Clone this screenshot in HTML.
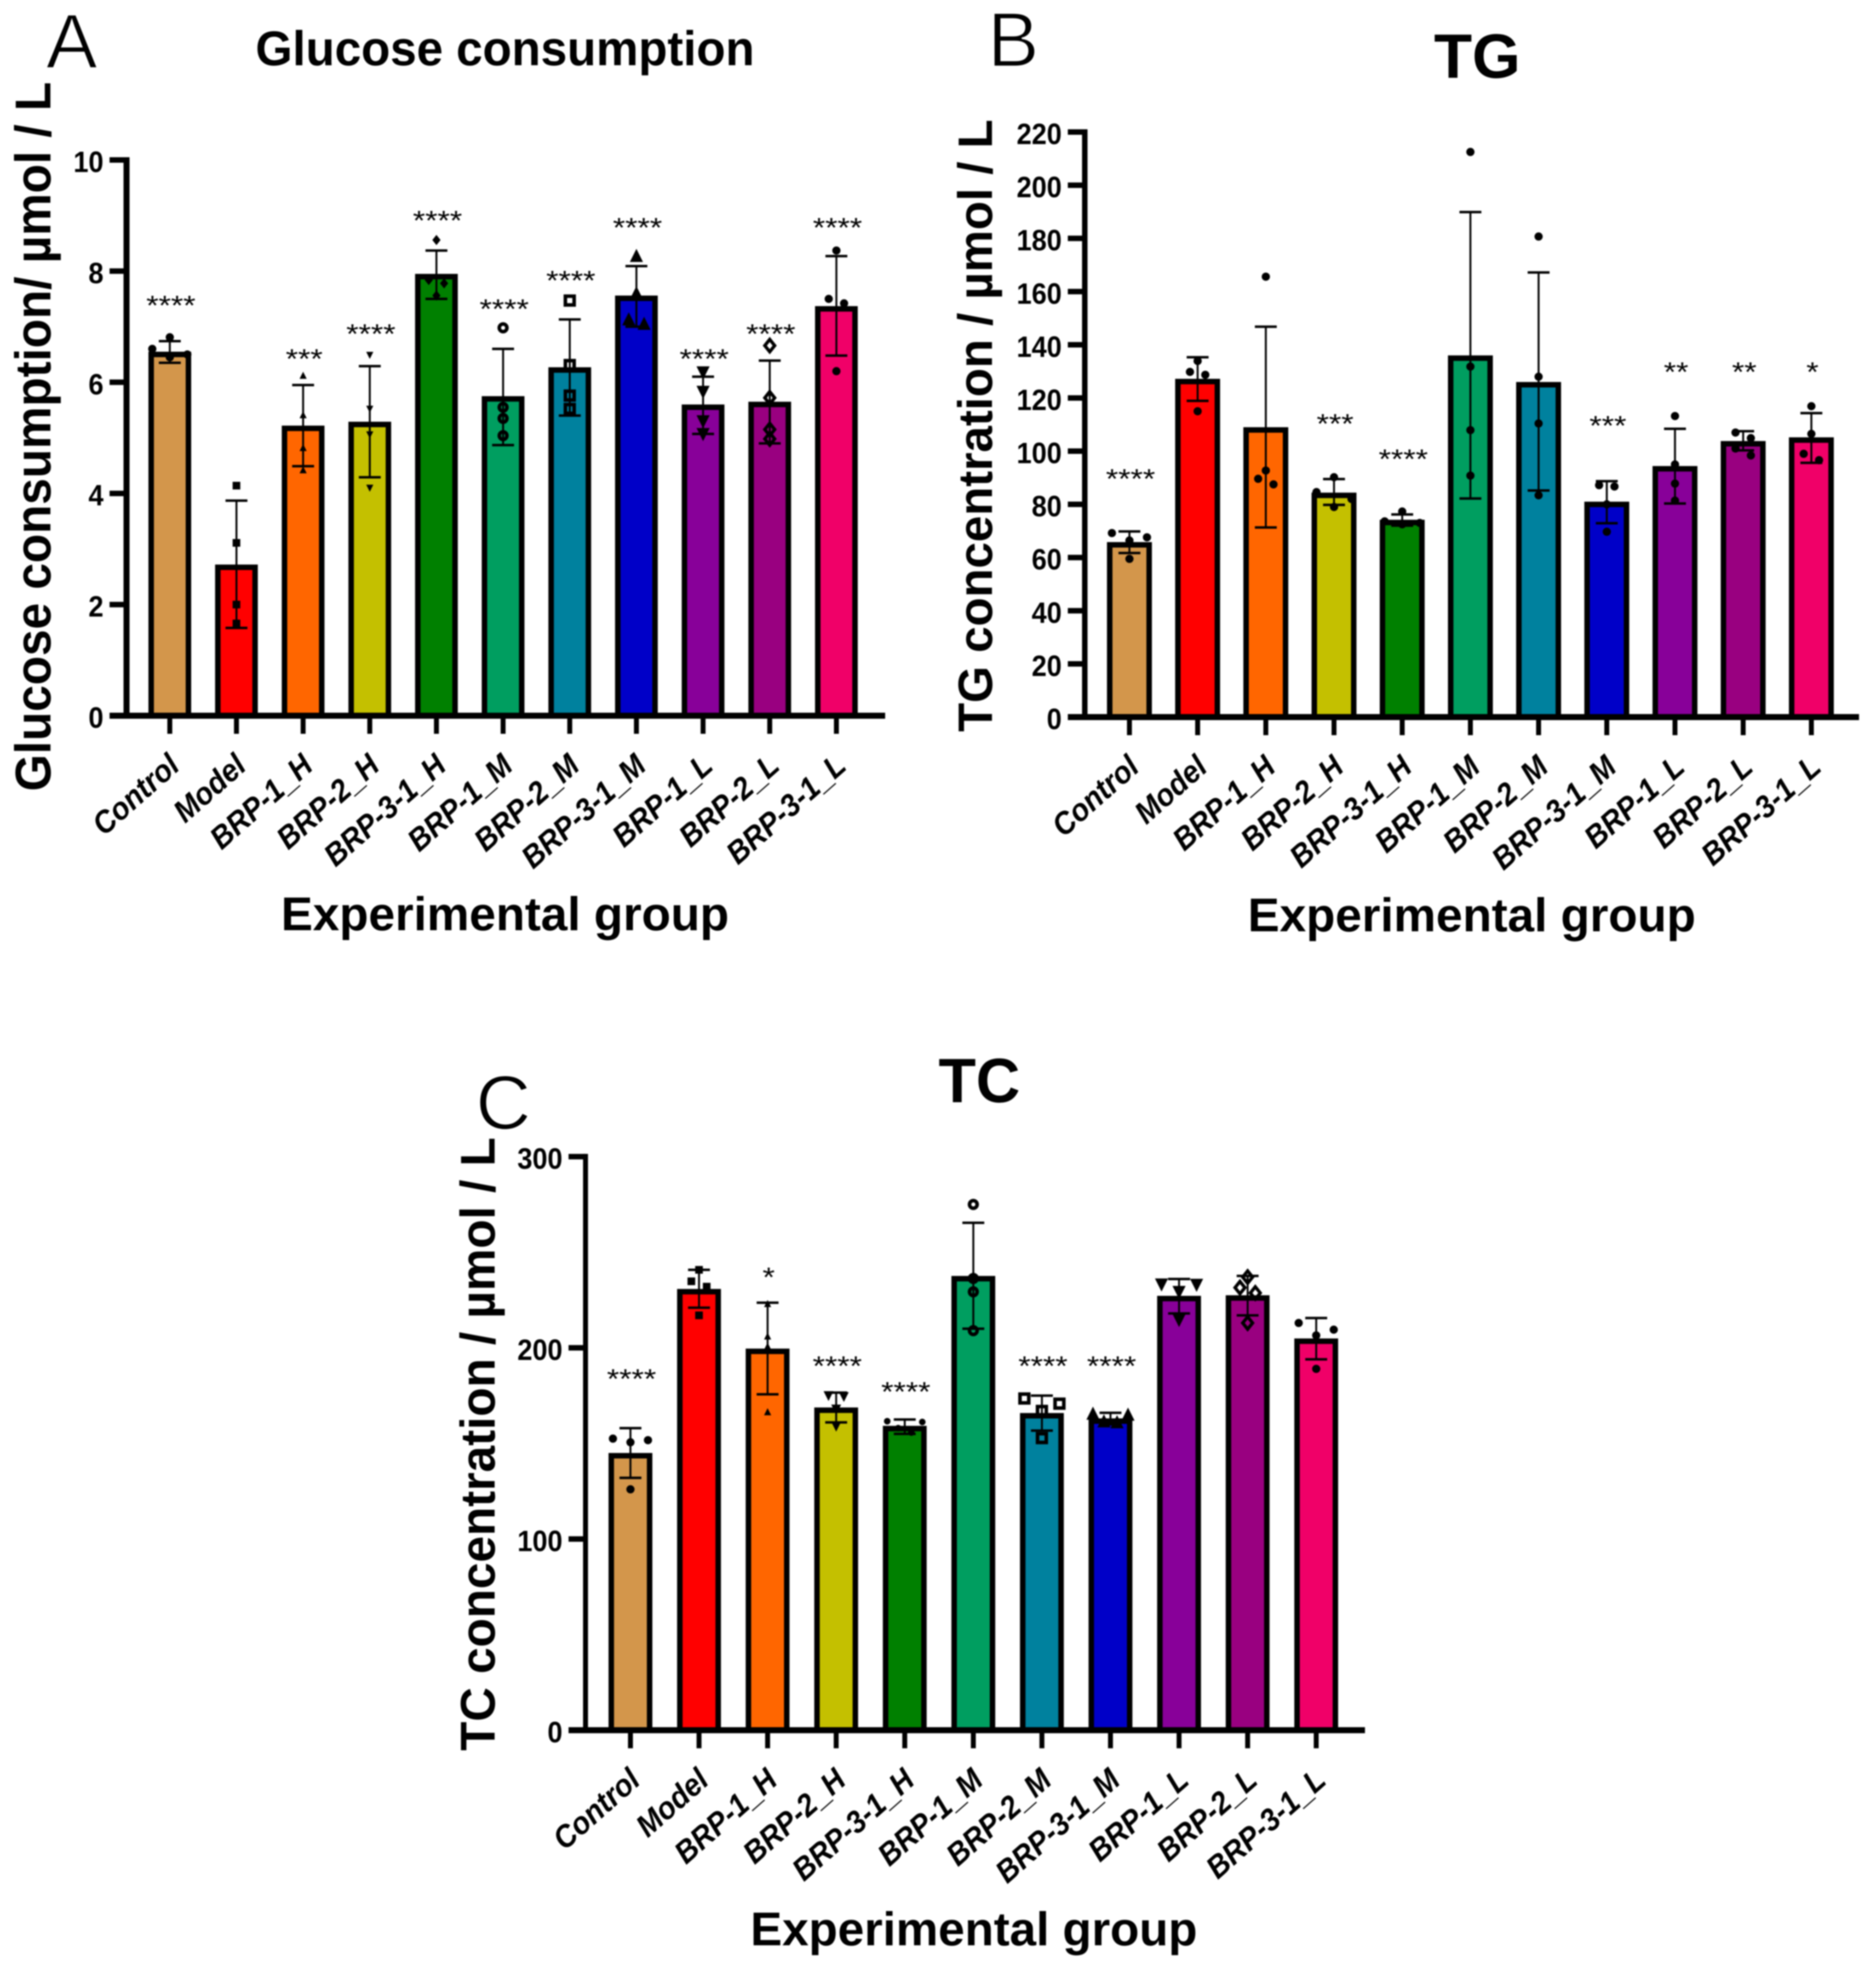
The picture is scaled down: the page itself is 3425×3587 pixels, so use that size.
<!DOCTYPE html>
<html lang="en">
<head>
<meta charset="utf-8">
<title>Glucose consumption, TG and TC by experimental group</title>
<style>
  html, body { margin: 0; padding: 0; background: #fff; }
  svg { display: block; filter: blur(1.2px); }
  text { font-family: "Liberation Sans", Arial, sans-serif; fill: #000; }
  .title { font-weight: 700; }
  .letter { font-weight: 400; stroke: #fff; stroke-width: 2.5px; }
</style>
</head>
<body>
<svg id="figure" xmlns="http://www.w3.org/2000/svg" width="3425" height="3587" viewBox="0 0 3425 3587">
  <rect x="0" y="0" width="3425" height="3587" fill="#fff"/>

  <g id="panel-a">
    <text class="letter" x="131" y="124" font-size="141" text-anchor="middle">A</text>
    <text class="title" x="922" y="119" font-size="89" text-anchor="middle" textLength="911" lengthAdjust="spacingAndGlyphs">Glucose consumption</text>
    <text class="title" transform="translate(92 797) rotate(-90)" font-size="92" text-anchor="middle" textLength="1295" lengthAdjust="spacingAndGlyphs">Glucose consumption/ µmol / L</text>
    <text class="title" x="922" y="1698" font-size="86" text-anchor="middle" textLength="818" lengthAdjust="spacingAndGlyphs">Experimental group</text>
  </g>

  <g id="panel-b">
    <text class="letter" x="1850" y="121" font-size="141" text-anchor="middle">B</text>
    <text class="title" x="2697" y="142" font-size="114" text-anchor="middle" textLength="158" lengthAdjust="spacingAndGlyphs">TG</text>
    <text class="title" transform="translate(1811 777) rotate(-90)" font-size="88" text-anchor="middle" textLength="1118" lengthAdjust="spacingAndGlyphs">TG concentration / µmol / L</text>
    <text class="title" x="2687" y="1700" font-size="86" text-anchor="middle" textLength="818" lengthAdjust="spacingAndGlyphs">Experimental group</text>
  </g>

  <g id="panel-c">
    <text class="letter" x="919" y="2061" font-size="140" text-anchor="middle">C</text>
    <text class="title" x="1788" y="2012" font-size="114" text-anchor="middle" textLength="149" lengthAdjust="spacingAndGlyphs">TC</text>
    <text class="title" transform="translate(903 2636) rotate(-90)" font-size="89" text-anchor="middle" textLength="1120" lengthAdjust="spacingAndGlyphs">TC concentration / µmol / L</text>
    <text class="title" x="1778" y="3551" font-size="86" text-anchor="middle" textLength="816" lengthAdjust="spacingAndGlyphs">Experimental group</text>
  </g>
</svg>

<script>
// ---------- shared categories ----------
const categories = ['Control', 'Model', 'BRP-1_H', 'BRP-2_H', 'BRP-3-1_H', 'BRP-1_M', 'BRP-2_M', 'BRP-3-1_M', 'BRP-1_L', 'BRP-2_L', 'BRP-3-1_L'];

// ---------- Panel A: glucose consumption ----------
const glucoseTicks = [0, 2, 4, 6, 8, 10];
const glucoseMeans = [6.55, 2.72, 5.22, 5.29, 7.95, 5.75, 6.27, 7.56, 5.6, 5.65, 7.37];
const glucoseUpper = [6.74, 3.87, 5.95, 6.29, 8.37, 6.6, 7.13, 8.09, 6.1, 6.39, 8.27];
const glucoseLower = [6.35, 1.58, 4.49, 4.29, 7.5, 4.87, 5.4, 7.0, 5.07, 4.9, 6.48];
const glucosePoints = [
  [6.81, 6.6, 6.5, 6.45],
  [4.14, 3.11, 2.0, 1.66],
  [6.12, 5.41, 4.82, 4.42],
  [6.49, 5.52, 5.06, 4.1],
  [8.56, 7.84, 7.78, 7.56],
  [6.98, 5.55, 5.35, 5.04],
  [7.47, 6.31, 5.76, 5.52],
  [8.27, 7.6, 7.13, 7.05],
  [6.18, 5.83, 5.3, 5.07],
  [6.66, 5.72, 5.15, 4.98],
  [8.37, 7.5, 7.42, 6.2]
];
const glucoseSigText = ['****', '', '***', '****', '****', '****', '****', '****', '****', '****', '****'];
const glucoseSigLevel = [7.45, 0, 6.49, 6.94, 8.98, 7.39, 7.9, 8.85, 6.49, 6.94, 8.85];

// ---------- Panel B: TG ----------
const tgTicks = [0, 20, 40, 60, 80, 100, 120, 140, 160, 180, 200, 220];
const tgMeans = [65.8, 127.2, 109, 84.4, 74.2, 136, 126, 81, 94.4, 103.8, 105.2];
const tgUpper = [69.8, 135.3, 146.8, 89.5, 76.2, 189.9, 167.2, 88.7, 108.4, 107.5, 114.3];
const tgLower = [61.7, 118.9, 71.3, 79.8, 72, 82.2, 85.2, 72.9, 80.3, 100.3, 95.6];
const tgPoints = [
  [69.2, 67.6, 66.4, 59.5],
  [133.9, 129.8, 128.7, 115],
  [165.6, 92.7, 89.6, 87.5],
  [90.2, 84.6, 82, 79],
  [77.3, 73.6, 73, 72.5],
  [212.5, 131.8, 107.9, 90.8],
  [180.7, 128, 110.4, 83.4],
  [87.2, 86.7, 80, 69.7],
  [113.2, 95, 87.8, 81.4],
  [107, 104.9, 101, 98.4],
  [116.9, 106.5, 99, 96.6]
];
const tgSigText = ['****', '', '', '***', '****', '', '', '***', '**', '**', '*'];
const tgSigLevel = [91, 0, 0, 111.8, 98.5, 0, 0, 111, 131.2, 131.2, 131.2];

// ---------- Panel C: TC ----------
const tcTicks = [0, 100, 200, 300];
const tcMeans = [145, 230.8, 199.6, 168.8, 159.2, 237.6, 165.9, 163.1, 227.2, 227.5, 204.9];
const tcUpper = [158, 240.8, 223.6, 176.6, 162.5, 265.4, 175, 166, 236, 237.6, 215.6];
const tcLower = [132, 221, 175.7, 161, 155, 210, 156.7, 160, 218, 217, 194];
const tcPoints = [
  [152.5, 151.7, 150.6, 126],
  [240.8, 234.8, 232, 217],
  [223, 206, 200.7, 166.4],
  [175, 174.5, 168, 159],
  [161.6, 161.2, 158, 155.7],
  [275, 236.3, 229.3, 209],
  [173.5, 170.8, 167, 152.8],
  [165.5, 165, 161.5, 161],
  [233.2, 233, 229.3, 214.6],
  [237, 231.5, 228.7, 213],
  [213, 209.5, 206.5, 189]
];
const tcSigText = ['****', '', '*', '****', '****', '', '****', '****', '', '', ''];
const tcSigLevel = [185.8, 0, 239, 192.5, 179, 0, 192.5, 192.5, 0, 0, 0];

// ---------- styling (not data) ----------
const barFills = ['#d3964b', '#ff0000', '#ff6600', '#c4c000', '#008000', '#009e60', '#00819e', '#0000c8', '#880099', '#990080', '#f00068'];
const glucoseShapes = ['circle', 'square', 'tri-up-s', 'tri-down-s', 'diamond-s', 'ring', 'hollow-square', 'tri-up-l', 'tri-down-l', 'hollow-diamond', 'circle'];
const tgShapes = ['circle', 'circle', 'circle', 'circle', 'circle', 'circle', 'circle', 'circle', 'circle', 'circle', 'circle'];
const tcShapes = ['circle', 'square', 'tri-up-s', 'tri-down-m', 'circle-s', 'ring', 'hollow-square', 'tri-up-l', 'tri-down-l', 'hollow-diamond', 'circle'];

const SVG_NS = 'http://www.w3.org/2000/svg';
const BORDER = 10;
const LABEL_FONT = 57;
const LABEL_WIDTH_RATIO = 0.93;

function node(tag, attrs, parent) {
  const el = document.createElementNS(SVG_NS, tag);
  for (const k in attrs) el.setAttribute(k, attrs[k]);
  parent.appendChild(el);
  return el;
}

// Spread tied points sideways, like a scatter-on-bar column.
function swarmOffsets(pixelYs) {
  const order = pixelYs.map((y, i) => [y, i]).sort((a, b) => a[0] - b[0]);
  const offsets = pixelYs.map(() => 0);
  let g = [];
  function flush() {
    if (g.length === 2) { offsets[g[0][1]] = -14; offsets[g[1][1]] = 14; }
    else if (g.length === 3) { offsets[g[0][1]] = -32; offsets[g[1][1]] = 32; offsets[g[2][1]] = 0; }
    else if (g.length >= 4) { offsets[g[0][1]] = -32; offsets[g[1][1]] = 32; offsets[g[2][1]] = -12; offsets[g[3][1]] = 12; }
    g = [];
  }
  order.forEach(item => {
    if (g.length && item[0] - g[g.length - 1][0] > 15) flush();
    g.push(item);
  });
  flush();
  return offsets;
}

function drawMarker(shape, cx, cy, parent) {
  const tri = (s, dir) => {
    const pts = [[cx - s, cy + dir * s * 0.9], [cx + s, cy + dir * s * 0.9], [cx, cy - dir * s * 1.1]];
    return node('polygon', { points: pts.map(p => p.join(',')).join(' '), fill: '#000' }, parent);
  };
  if (shape === 'circle') return node('circle', { cx, cy, r: 7.5, fill: '#000' }, parent);
  if (shape === 'circle-s') return node('circle', { cx, cy, r: 6, fill: '#000' }, parent);
  if (shape === 'ring') return node('circle', { cx, cy, r: 7, fill: 'none', stroke: '#000', 'stroke-width': 6.5 }, parent);
  if (shape === 'square') return node('rect', { x: cx - 7, y: cy - 7, width: 14, height: 14, fill: '#000' }, parent);
  if (shape === 'hollow-square') return node('rect', { x: cx - 8, y: cy - 8, width: 16, height: 16, fill: 'none', stroke: '#000', 'stroke-width': 6.5 }, parent);
  if (shape === 'tri-up-s') return tri(6.5, 1);
  if (shape === 'tri-up-l') return tri(12, 1);
  if (shape === 'tri-down-s') return tri(6.5, -1);
  if (shape === 'tri-down-m') return tri(9, -1);
  if (shape === 'tri-down-l') return tri(12, -1);
  const hollow = shape === 'hollow-diamond';
  const s = hollow ? 9 : 7.5;
  const pts = [[cx, cy - s * 1.25], [cx + s, cy], [cx, cy + s * 1.25], [cx - s, cy]];
  return node('polygon', {
    points: pts.map(p => p.join(',')).join(' '),
    fill: hollow ? 'none' : '#000', stroke: '#000', 'stroke-width': hollow ? 6 : 0
  }, parent);
}

function drawPanel(cfg) {
  const root = document.getElementById(cfg.rootId);
  const yScale = v => cfg.y0 - (v / cfg.yMax) * (cfg.y0 - cfg.yTop);
  const xScale = i => cfg.firstX + i * cfg.step;

  // bars
  categories.forEach((cat, i) => {
    const top = yScale(cfg.means[i]);
    const bar = node('rect', {
      x: xScale(i) - cfg.barW / 2 + BORDER / 2,
      y: top + BORDER / 2,
      width: cfg.barW - BORDER,
      height: Math.max(0, cfg.y0 - top - BORDER / 2),
      fill: barFills[i], stroke: '#000', 'stroke-width': BORDER
    }, root);
    
    
  });

  // y axis + ticks + labels
  const yAxis = node('line', { x1: cfg.axisX, x2: cfg.axisX, y1: yScale(cfg.yMax) - 5, y2: cfg.y0 + 5, stroke: '#000', 'stroke-width': cfg.axisW }, root);
  
  

  cfg.ticks.forEach(t => {
    const y = yScale(t);
    const tick = node('line', { x1: cfg.axisX - 31, x2: cfg.axisX, y1: y, y2: y, stroke: '#000', 'stroke-width': 10 }, root);
    
    
    const label = node('text', {
      x: cfg.axisX - 42, y: y + 22, 'font-size': 54, 'font-weight': 700, 'text-anchor': 'end',
      textLength: String(t).length * 27.5, lengthAdjust: 'spacingAndGlyphs'
    }, root);
    label.textContent = String(t);
    
    
  });

  // x axis + ticks + rotated labels
  const xAxis = node('line', { x1: cfg.axisX - 31, x2: cfg.xEnd, y1: cfg.y0, y2: cfg.y0, stroke: '#000', 'stroke-width': 11 }, root);
  
  

  categories.forEach((cat, i) => {
    const x = xScale(i);
    const tick = node('line', { x1: x, x2: x, y1: cfg.y0, y2: cfg.y0 + 33, stroke: '#000', 'stroke-width': 9 }, root);
    
    
    const lx = x + 21, ly = cfg.y0 + 96;
    const label = node('text', {
      x: lx, y: ly, 'font-size': LABEL_FONT, 'font-weight': 700, 'font-style': 'italic', 'text-anchor': 'end',
      transform: 'rotate(-41.5 ' + lx + ' ' + ly + ')'
    }, root);
    label.textContent = cat;
    
    
    label.setAttribute('textLength', label.getComputedTextLength() * LABEL_WIDTH_RATIO);
    label.setAttribute('lengthAdjust', 'spacingAndGlyphs');
  });

  // error bars
  categories.forEach((cat, i) => {
    const x = xScale(i), yU = yScale(cfg.upper[i]), yL = yScale(cfg.lower[i]);
    const g = node('g', { stroke: '#000' }, root);
    
    
    node('line', { x1: x, x2: x, y1: yU, y2: yL, 'stroke-width': 3.5 }, g);
    node('line', { x1: x - 20, x2: x + 20, y1: yU, y2: yU, 'stroke-width': 4.5 }, g);
    node('line', { x1: x - 20, x2: x + 20, y1: yL, y2: yL, 'stroke-width': 4.5 }, g);
  });

  // individual data points
  categories.forEach((cat, i) => {
    const ys = cfg.points[i].map(yScale);
    const offs = swarmOffsets(ys);
    ys.forEach((y, j) => {
      const m = drawMarker(cfg.shapes[i], xScale(i) + offs[j], y, root);
      
      
    });
  });

  // significance stars
  categories.forEach((cat, i) => {
    const txt = cfg.sigText[i];
    if (!txt) return;
    const star = node('text', {
      x: xScale(i) + 2, y: yScale(cfg.sigLevel[i]) + 24, 'font-size': 50, 'text-anchor': 'middle',
      textLength: txt.length * 22.5, lengthAdjust: 'spacingAndGlyphs'
    }, root);
    star.textContent = txt;
    
    
  });
}

drawPanel({
  rootId: 'panel-a', axisX: 231, axisW: 11, y0: 1306.5, yTop: 292, yMax: 10, firstX: 310, step: 121.7, barW: 78, xEnd: 1616,
  ticks: glucoseTicks, means: glucoseMeans, upper: glucoseUpper, lower: glucoseLower, points: glucosePoints,
  sigText: glucoseSigText, sigLevel: glucoseSigLevel, shapes: glucoseShapes
});
drawPanel({
  rootId: 'panel-b', axisX: 1980.5, axisW: 10, y0: 1309, yTop: 241, yMax: 220, firstX: 2062, step: 124.5, barW: 82, xEnd: 3394,
  ticks: tgTicks, means: tgMeans, upper: tgUpper, lower: tgLower, points: tgPoints,
  sigText: tgSigText, sigLevel: tgSigLevel, shapes: tgShapes
});
drawPanel({
  rootId: 'panel-c', axisX: 1069, axisW: 9, y0: 3158.4, yTop: 2111.4, yMax: 300, firstX: 1151, step: 125.2, barW: 80, xEnd: 2492,
  ticks: tcTicks, means: tcMeans, upper: tcUpper, lower: tcLower, points: tcPoints,
  sigText: tcSigText, sigLevel: tcSigLevel, shapes: tcShapes
});
</script>
</body>
</html>
